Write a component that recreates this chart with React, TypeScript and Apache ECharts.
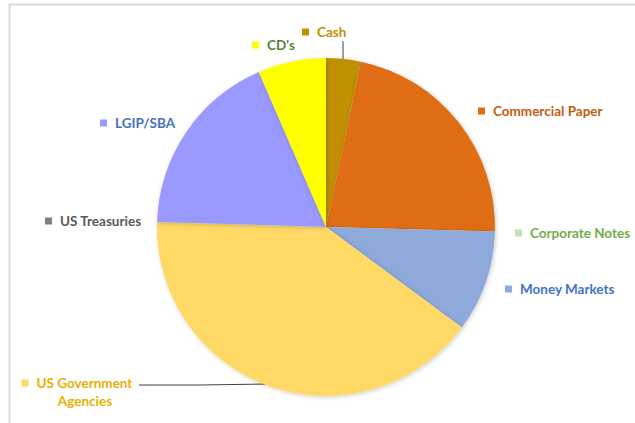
import React, { useEffect, useRef } from "react";
import * as echarts from "echarts";

const categories = [
  "Cash",
  "Commercial Paper",
  "Corporate Notes",
  "Money Markets",
  "US Government\nAgencies",
  "US Treasuries",
  "LGIP/SBA",
  "CD's",
];
const values = [3.3, 22.1, 0, 9.7, 40.3, 0, 18.0, 6.5];
const sliceColors = ["#bf9000", "#df6d13", "#c5e0b4", "#8eaadb", "#ffd966", "#7f7f7f", "#9999ff", "#ffff00"];
const textColors = ["#bf9000", "#c55a11", "#70ad47", "#4472c4", "#e8b000", "#595959", "#4472c4", "#548235"];

// label anchor positions (layout only)
const labelPos: [number, number, string][] = [
  [302, 32, "left"],
  [478, 111, "left"],
  [515, 233, "left"],
  [505, 289, "left"],
  [77, 392, "center"],
  [45, 221, "left"],
  [100, 123, "left"],
  [252, 45, "left"],
];
const linePoints: Record<number, number[][]> = {
  0: [[343, 41], [343, 60], [343, 60]],
  4: [[139, 385], [200, 385], [268, 384]],
};

export default function App() {
  const ref = useRef<HTMLDivElement>(null);
  useEffect(() => {
    if (!ref.current) return;
    const chart = echarts.init(ref.current, null, { renderer: "svg" });
    const font = "Lato, 'Open Sans', sans-serif";
    const fs = 13.5;
    const data = categories.map((name, i) => ({
      name,
      value: values[i],
      itemStyle: { color: sliceColors[i] },
      label: {
        show: true,
        formatter: i === 4 ? "{sq| }{t|US Government}\n{t2|Agencies}" : "{sq| }{t|" + name + "}",
        rich: {
          sq: { width: 7, height: 7, backgroundColor: sliceColors[i], padding: 0 },
          t: { color: textColors[i], fontFamily: font, fontWeight: "bold", fontSize: fs, padding: [0, 0, 0, 8], lineHeight: 18 },
          t2: { color: textColors[i], fontFamily: font, fontWeight: "bold", fontSize: fs, padding: [0, 0, 0, 16], lineHeight: 18 },
        },
      },
      labelLine: {
        show: !!linePoints[i],
        lineStyle: { color: "#404040", width: 1 },
      },
    }));
    chart.setOption({
      animation: false,
      backgroundColor: "#ffffff",
      graphic: [
        { type: "line", shape: { x1: 9, y1: 4.5, x2: 635, y2: 4.5 }, style: { stroke: "#dcdcdc", lineWidth: 2 } },
        { type: "line", shape: { x1: 9.5, y1: 4, x2: 9.5, y2: 423 }, style: { stroke: "#dcdcdc", lineWidth: 2 } },
      ],
      series: [
        {
          type: "pie",
          center: [326, 227],
          radius: 169,
          startAngle: 90,
          clockwise: true,
          avoidLabelOverlap: false,
          data,
          itemStyle: {
            shadowBlur: 4,
            shadowColor: "rgba(0,0,0,0.2)",
            shadowOffsetX: 1,
            shadowOffsetY: 1,
          },
          emphasis: { disabled: true },
          labelLayout: (params: any) => {
            const i = params.dataIndex;
            const p = labelPos[i];
            const res: any = { x: p[0], y: p[1], align: p[2], verticalAlign: "middle" };
            if (linePoints[i]) res.labelLinePoints = linePoints[i];
            return res;
          },
        },
      ],
    });
    return () => chart.dispose();
  }, []);
  return (
    <div
      ref={ref}
      style={{ width: 635, height: 423, position: "absolute", left: 0, top: 0 }}
    />
  );
}
